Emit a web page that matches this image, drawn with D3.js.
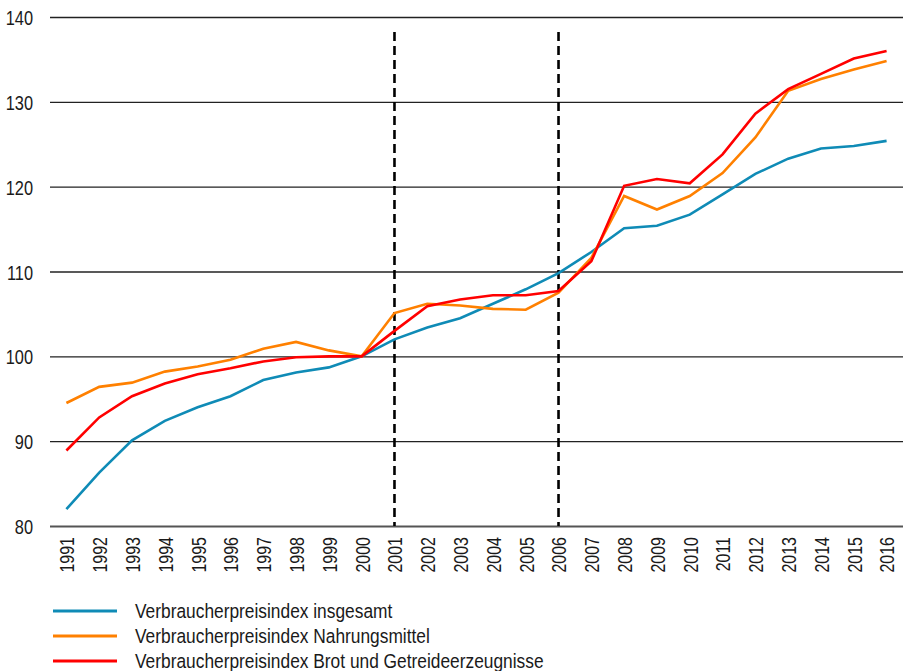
<!DOCTYPE html>
<html lang="de">
<head>
<meta charset="UTF-8">
<title>Verbraucherpreisindex 1991-2016</title>
<script src="https://d3js.org/d3.v7.min.js"></script>
<style>
    body {
        margin: 0;
        background-color: #fff;
    }
    .narrow {
        font-family: "Liberation Sans", Arial, sans-serif;
        fill: #1a1a1a;
    }
</style>
</head>
<body>
<script>
    const width = 903;
    const height = 671;

    // data (2000 = 100)
    const years = ["1991", "1992", "1993", "1994", "1995", "1996", "1997", "1998", "1999", "2000",
                   "2001", "2002", "2003", "2004", "2005", "2006", "2007", "2008", "2009", "2010",
                   "2011", "2012", "2013", "2014", "2015", "2016"];
    const vpiGesamt = [82.0, 86.3, 90.1, 92.4, 94.0, 95.3, 97.2, 98.1, 98.7, 100.0,
                       102.0, 103.4, 104.5, 106.2, 107.9, 109.8, 112.3, 115.1, 115.4, 116.7,
                       119.1, 121.5, 123.3, 124.5, 124.8, 125.4];
    const vpiNahrung = [94.5, 96.4, 96.9, 98.2, 98.8, 99.6, 100.9, 101.7, 100.7, 100.0,
                        105.1, 106.2, 106.0, 105.6, 105.5, 107.5, 111.6, 118.9, 117.3, 118.9,
                        121.6, 125.8, 131.3, 132.7, 133.8, 134.8];
    const vpiBrot = [88.9, 92.8, 95.3, 96.8, 97.9, 98.6, 99.4, 99.9, 100.0, 100.0,
                     103.0, 105.9, 106.7, 107.2, 107.2, 107.7, 111.2, 120.1, 120.9, 120.4,
                     123.8, 128.6, 131.5, 133.3, 135.1, 136.0];
    const yTicks = [80, 90, 100, 110, 120, 130, 140];
    const markerYears = ["2001", "2006"];
    const seriesNames = ["Verbraucherpreisindex insgesamt",
                         "Verbraucherpreisindex Nahrungsmittel",
                         "Verbraucherpreisindex Brot und Getreideerzeugnisse"];
    const seriesColors = ["#0f8bb6", "#ff8000", "#ff0000"];

    const series = [vpiGesamt, vpiNahrung, vpiBrot];

    const svg = d3.select("body").append("svg")
        .attr("width", width)
        .attr("height", height);

    const x = d3.scalePoint()
        .domain(years)
        .range([50, 903])
        .padding(0.5);

    const y = d3.scaleLinear()
        .domain([80, 140])
        .range([526, 17]);

    // gridlines + y labels (condensed look via horizontal squeeze)
    const yAxis = svg.append("g")
        .call(d3.axisLeft(y).tickValues(yTicks).tickSize(0).tickPadding(0));
    yAxis.select(".domain").remove();
    yAxis.selectAll(".tick text")
        .attr("class", "narrow")
        .attr("x", 0)
        .attr("text-anchor", "end")
        .attr("dy", "0.36em")
        .attr("transform", "translate(33,0) scale(0.78,1)")
        .style("font-size", "21px");
    yAxis.selectAll(".tick").append("line")
        .attr("x1", 50)
        .attr("x2", 903)
        .attr("stroke", d => d === 80 ? "#555" : "#222")
        .attr("stroke-width", d => d === 80 ? 2 : 1.4);

    // year labels, rotated, same condensed style
    const xAxis = svg.append("g")
        .attr("transform", "translate(0,526)")
        .call(d3.axisBottom(x).tickSize(0));
    xAxis.select(".domain").remove();
    xAxis.selectAll(".tick text")
        .attr("class", "narrow")
        .attr("transform", "translate(0,11) rotate(-90) scale(0.78,1)")
        .attr("x", 0)
        .attr("y", 0)
        .attr("dy", "0.36em")
        .attr("text-anchor", "end")
        .style("font-size", "20.5px");

    // dashed markers
    markerYears.forEach(yr => {
        svg.append("line")
            .attr("x1", x(yr))
            .attr("x2", x(yr))
            .attr("y1", 32)
            .attr("y2", 526)
            .attr("stroke", "#000")
            .attr("stroke-width", 2.6)
            .attr("stroke-dasharray", "9,5");
    });

    const line = d3.line()
        .x((d, i) => x(years[i]))
        .y(d => y(d));

    series.forEach((vals, i) => {
        svg.append("path")
            .datum(vals)
            .attr("d", line)
            .attr("fill", "none")
            .attr("stroke", seriesColors[i])
            .attr("stroke-width", 2.6)
            .attr("stroke-linejoin", "miter");
    });

    // legend
    const legendY = [611, 636, 661];
    seriesNames.forEach((name, i) => {
        svg.append("line")
            .attr("x1", 53)
            .attr("x2", 117)
            .attr("y1", legendY[i])
            .attr("y2", legendY[i])
            .attr("stroke", seriesColors[i])
            .attr("stroke-width", 3);
        svg.append("text")
            .attr("class", "narrow")
            .attr("transform", `translate(135,${legendY[i]}) scale(0.89,1)`)
            .attr("dy", "0.36em")
            .style("font-size", "19.5px")
            .text(name);
    });
</script>
</body>
</html>
